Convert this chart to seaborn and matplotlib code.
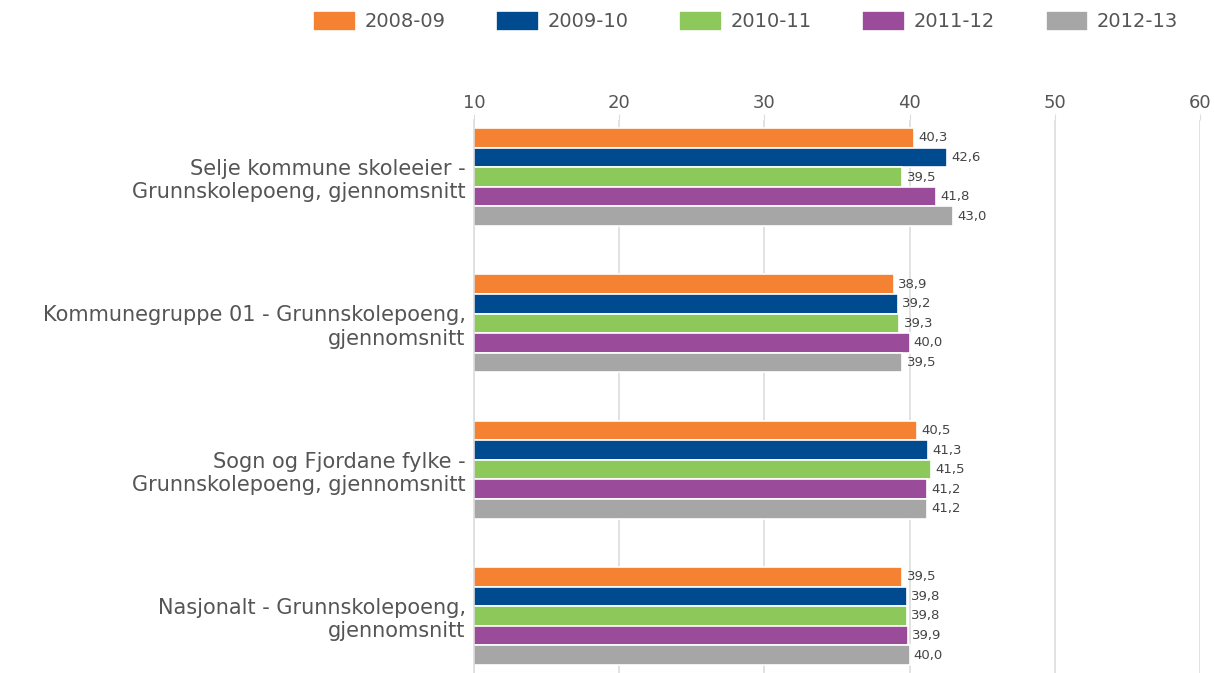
import pandas as pd
import matplotlib
matplotlib.use("Agg")
import matplotlib.pyplot as plt
import seaborn as sns

categories = [
    "Selje kommune skoleeier -\nGrunnskolepoeng, gjennomsnitt",
    "Kommunegruppe 01 - Grunnskolepoeng,\ngjennomsnitt",
    "Sogn og Fjordane fylke -\nGrunnskolepoeng, gjennomsnitt",
    "Nasjonalt - Grunnskolepoeng,\ngjennomsnitt",
]
years = ["2008-09", "2009-10", "2010-11", "2011-12", "2012-13"]
v_2008 = [40.3, 38.9, 40.5, 39.5]
v_2009 = [42.6, 39.2, 41.3, 39.8]
v_2010 = [39.5, 39.3, 41.5, 39.8]
v_2011 = [41.8, 40.0, 41.2, 39.9]
v_2012 = [43.0, 39.5, 41.2, 40.0]
colors = ["#F58233", "#004A8F", "#8CC85A", "#9A4C9B", "#A6A6A6"]
xticks = [10, 20, 30, 40, 50, 60]

series = [v_2008, v_2009, v_2010, v_2011, v_2012]
rows = []
for y, vals in zip(years, series):
    for c, v in zip(categories, vals):
        rows.append({"Kategori": c, "Aar": y, "Verdi": v})
df = pd.DataFrame(rows)

sns.set_style("white")
plt.rcParams["font.family"] = ["DejaVu Sans"]
text_col = "#555555"

fig = plt.figure(figsize=(12.14, 6.73), dpi=100)
ax = fig.add_axes([474 / 1214, 0.0, 726 / 1214, 1 - 120 / 673])

sns.barplot(data=df, x="Verdi", y="Kategori", hue="Aar", order=categories,
            hue_order=years, palette=colors, orient="h", width=0.67,
            edgecolor="white", linewidth=1.2, saturation=1, ax=ax, legend=True)

for cont in ax.containers:
    labels = [f"{b.get_width():.1f}".replace(".", ",") for b in cont]
    ax.bar_label(cont, labels=labels, padding=3, fontsize=9.5, color="#444444")

ax.set_xlim(10, 60)
ax.set_ylim(3.39, -0.39)
ax.set_xticks(xticks)
ax.xaxis.tick_top()
ax.grid(axis="x", color="#DDDDDD", linewidth=1.2)
ax.set_axisbelow(True)
for s in ["top", "right", "bottom"]:
    ax.spines[s].set_visible(False)
ax.spines["left"].set_color("#DDDDDD")
ax.spines["left"].set_linewidth(1.2)
ax.tick_params(axis="x", length=4, color="#DDDDDD", labelsize=13,
               labelcolor=text_col, pad=2)
ax.tick_params(axis="y", length=0, labelsize=15, labelcolor=text_col, pad=6)
ax.set_xlabel("")
ax.set_ylabel("")

handles, labs = ax.get_legend_handles_labels()
ax.get_legend().remove()
fig.legend(handles, labs, loc="upper right", bbox_to_anchor=(0.985, 1.01),
           ncol=5, frameon=False, fontsize=14, labelcolor=text_col,
           handlelength=2.2, handleheight=1.2, columnspacing=2.6,
           handletextpad=0.45)

fig.savefig("out.png", dpi=100)
